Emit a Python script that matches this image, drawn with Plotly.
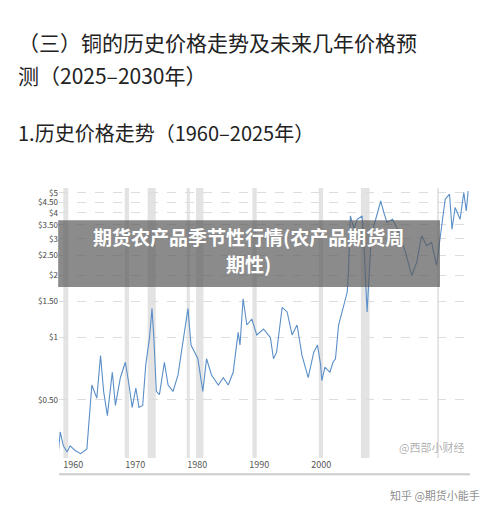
import plotly.graph_objects as go
import math

# 铜价 (美元/磅)，按图上位置读取
years = [1957.6, 1957.9, 1958.4, 1959.0, 1959.5, 1960.3, 1961.2, 1962.2, 1962.5, 1963.0,
         1963.8, 1964.4, 1964.9, 1965.5, 1966.3, 1966.8, 1967.6, 1968.4, 1969.0, 1969.5,
         1970.1, 1970.6, 1971.2, 1971.7, 1972.3, 1972.7, 1973.0, 1973.4, 1973.9, 1974.7,
         1975.3, 1976.1, 1976.9, 1978.0, 1978.5, 1979.0, 1980.1, 1980.9, 1981.5, 1982.3,
         1983.4, 1984.2, 1985.0, 1985.8, 1986.6, 1986.9, 1987.4, 1988.0, 1988.8, 1989.6,
         1990.7, 1991.8, 1992.3, 1992.8, 1993.7, 1994.5, 1995.3, 1996.1, 1996.9, 1997.9,
         1998.8, 1999.4, 1999.9, 2000.1, 2000.6, 2001.4, 2001.9, 2002.3, 2002.8, 2003.5,
         2004.2, 2004.4, 2004.7, 2005.3, 2005.8, 2006.6, 2006.9, 2007.4, 2008.0, 2008.5,
         2009.6, 2010.1, 2010.6, 2011.5, 2012.3, 2013.6, 2014.6, 2015.4, 2016.2, 2017.0,
         2017.8, 2018.6, 2019.2, 2020.0, 2020.7, 2021.1, 2021.6, 2022.4, 2023.0, 2023.4,
         2023.7]
price = [0.28, 0.35, 0.30, 0.28, 0.30, 0.285, 0.275, 0.29, 0.38, 0.59,
         0.51, 0.82, 0.55, 0.42, 0.68, 0.47, 0.64, 0.76, 0.59, 0.46,
         0.57, 0.46, 0.47, 0.74, 1.0, 1.38, 1.0, 0.55, 0.53, 0.76,
         0.59, 0.55, 0.66, 1.06, 1.38, 0.92, 0.79, 0.55, 0.79, 0.66,
         0.59, 0.64, 0.59, 0.68, 1.06, 0.92, 1.54, 1.15, 1.23, 1.03,
         1.10, 1.0, 0.79, 0.85, 1.40, 1.33, 1.03, 1.15, 0.82, 0.64,
         0.85, 0.92, 0.74, 0.62, 0.72, 0.68, 0.76, 0.79, 1.15, 1.38,
         1.66, 2.10, 3.87, 3.34, 3.73, 3.87, 2.78, 1.33, 2.78, 3.47,
         4.57, 4.02, 3.60, 3.73, 3.34, 2.58, 1.99, 2.31, 3.10, 2.78,
         2.88, 2.23, 2.99, 4.66, 4.93, 3.34, 4.25, 3.73, 5.02, 4.09,
         5.1]

# 灰色阴影区间 (衰退期)
bands = [(1958.4, 1959.2), (1968.3, 1969.0), (1972.0, 1973.3), (1978.3, 1978.8),
         (1979.8, 1981.0), (1988.9, 1989.6), (1999.6, 2000.3), (2006.4, 2007.8),
         (2018.7, 2019.0)]

y_ticks = [0.5, 1, 1.5, 2, 2.5, 3, 3.5, 4, 4.5, 5]
y_labels = ["$0.50", "$1", "$1.50", "$2", "$2.50", "$3", "$3.50", "$4", "$4.50", "$5"]
x_ticks = [1960, 1970, 1980, 1990, 2000]

fig = go.Figure()
fig.add_trace(go.Scatter(x=years, y=price, mode="lines",
                         line=dict(color="#5b8fc8", width=1.1), showlegend=False))

for a, b in bands:
    fig.add_vrect(x0=a, x1=b, fillcolor="#e3e3e3", line_width=0, layer="below")

# 页面有 8px 边距，所以整体尺寸减 8
fig.update_layout(
    width=492, height=500,
    margin=dict(l=51, r=30, t=180, b=50, autoexpand=False),
    paper_bgcolor="white", plot_bgcolor="white",
    font=dict(family="Noto Sans CJK SC", color="#333"),
    xaxis=dict(range=[1957.7, 2024.0], tickvals=x_ticks, showgrid=False, automargin=False,
               zeroline=False, ticks="", tickfont=dict(size=9, color="#555")),
    yaxis=dict(type="log", range=[math.log10(0.262), math.log10(5.28)], automargin=False,
               tickvals=y_ticks, ticktext=y_labels, gridcolor="#dddddd",
               griddash="dash", zeroline=False, tickfont=dict(size=8, color="#444")),
)

# 底部灰线
fig.add_shape(type="line", xref="paper", yref="paper", x0=0.0, x1=1.0, y0=-0.06, y1=-0.06,
              line=dict(color="#cccccc", width=2))

# 标题文字
fig.add_annotation(text="（三）铜的历史价格走势及未来几年价格预", xref="paper", yref="paper",
                   x=-0.105, y=1.541, xanchor="left", yanchor="middle", showarrow=False,
                   font=dict(size=21, color="#222"))
fig.add_annotation(text="测（2025–2030年）", xref="paper", yref="paper",
                   x=-0.105, y=1.419, xanchor="left", yanchor="middle", showarrow=False,
                   font=dict(size=21, color="#222"))
fig.add_annotation(text="1.历史价格走势（1960–2025年）", xref="paper", yref="paper",
                   x=-0.105, y=1.204, xanchor="left", yanchor="middle", showarrow=False,
                   font=dict(size=20, color="#222"))

# 半透明遮罩横幅
fig.add_shape(type="rect", xref="paper", yref="paper", x0=-0.002, x1=0.927, y0=0.633, y1=0.881,
              fillcolor="rgba(90,90,90,0.7)", line_width=0)
fig.add_annotation(text="<b>期货农产品季节性行情(农产品期货周</b>", xref="paper", yref="paper",
                   x=0.462, y=0.82, yanchor="middle", showarrow=False,
                   font=dict(size=19, color="white"))
fig.add_annotation(text="<b>期性)</b>", xref="paper", yref="paper",
                   x=0.462, y=0.72, yanchor="middle", showarrow=False,
                   font=dict(size=19, color="white"))

# 水印
fig.add_annotation(text="@西部小财经", xref="paper", yref="paper", x=0.99, y=0.005,
                   xanchor="right", yanchor="bottom", showarrow=False,
                   font=dict(size=11, color="rgba(120,120,120,0.6)"))
fig.add_annotation(text="知乎 @期货小能手", xref="paper", yref="paper", x=1.03, y=-0.137,
                   xanchor="right", yanchor="middle", showarrow=False,
                   font=dict(size=11, color="rgba(110,110,110,0.8)"))

fig.write_html("out.html")
